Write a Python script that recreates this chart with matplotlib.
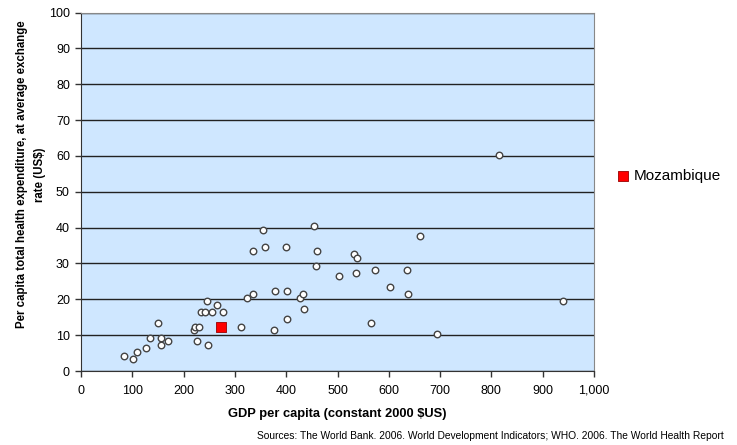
import matplotlib
matplotlib.use("Agg")
import matplotlib.pyplot as plt
from matplotlib.ticker import MultipleLocator

plt.rcParams['font.family'] = 'Liberation Sans'

gdp = [84, 102, 110, 127, 135, 151, 155, 155, 170, 221, 223, 230, 227, 234, 242,
       246, 248, 256, 265, 277, 312, 324, 335, 336, 354, 358, 376, 378, 399, 401,
       401, 426, 432, 435, 455, 459, 461, 502, 533, 537, 538, 565, 573, 603, 635,
       638, 660, 694, 815, 940]
the = [4.1, 3.4, 5.2, 6.4, 9.2, 13.3, 9.2, 7.2, 8.3, 11.3, 12.2, 12.2, 8.3, 16.4, 16.4,
       19.4, 7.2, 16.4, 18.3, 16.4, 12.2, 20.3, 21.4, 33.4, 39.4, 34.5, 11.4, 22.2, 34.5, 22.2,
       14.5, 20.3, 21.4, 17.2, 40.4, 29.4, 33.4, 26.4, 32.5, 27.3, 31.4, 13.3, 28.3, 23.3, 28.3,
       21.4, 37.6, 10.2, 60.3, 19.5]
moz_gdp = [273.5]
moz_the = [12.2]
x_ticks = [0, 100, 200, 300, 400, 500, 600, 700, 800, 900, 1000]
x_tick_labels = ['0', '100', '200', '300', '400', '500', '600', '700', '800', '900', '1,000']

fig = plt.figure(figsize=(7.37, 4.45), dpi=100)
ax = fig.add_axes([81/737, 1-371/445, (594-81)/737, (371-12.5)/445])
ax.set_facecolor('#cfe7ff')
ax.set_xlim(0, 1000)
ax.set_ylim(0, 100)
ax.set_xticks(x_ticks)
ax.set_xticklabels(x_tick_labels)
ax.yaxis.set_major_locator(MultipleLocator(10))
ax.yaxis.grid(True, color='#222222', linewidth=1.0)
ax.set_axisbelow(True)
ax.tick_params(axis='both', direction='out', length=4, width=1, color='#333333',
               labelsize=9, pad=4)
ax.tick_params(axis='x', pad=12.3)
for lab in ax.get_xticklabels():
    lab.set_verticalalignment('baseline')
for s in ['left', 'bottom']:
    ax.spines[s].set_color('#333333')
for s in ['top', 'right']:
    ax.spines[s].set_color('#888888')

ax.scatter(gdp, the, s=22, facecolor='white', edgecolor='#444444', linewidth=1.0, zorder=3)
ax.scatter(moz_gdp, moz_the, s=45, marker='s', facecolor='#ff0000', edgecolor='#990000',
           linewidth=0.6, zorder=4, label='Mozambique')

ax.set_xlabel('GDP per capita (constant 2000 $US)', fontsize=9.3, fontweight='bold', labelpad=8.5)
fig.text(31/737, 1-174.5/445,
         'Per capita total health expenditure, at average exchange\nrate (US$)',
         rotation=90, ha='center', va='center', multialignment='center',
         fontsize=8.3, fontweight='bold', linespacing=1.75)

leg = ax.legend(loc='center left', bbox_to_anchor=(608/737, 1-176/445), bbox_transform=fig.transFigure,
                frameon=False, fontsize=11, handletextpad=0.3, markerscale=1.0,
                borderpad=0, handlelength=0.9)

fig.text(724/737, 1-436/445, 'Sources: The World Bank. 2006. World Development Indicators; WHO. 2006. The World Health Report',
         ha='right', va='center', fontsize=7.4)

fig.savefig('out.png', dpi=100)
